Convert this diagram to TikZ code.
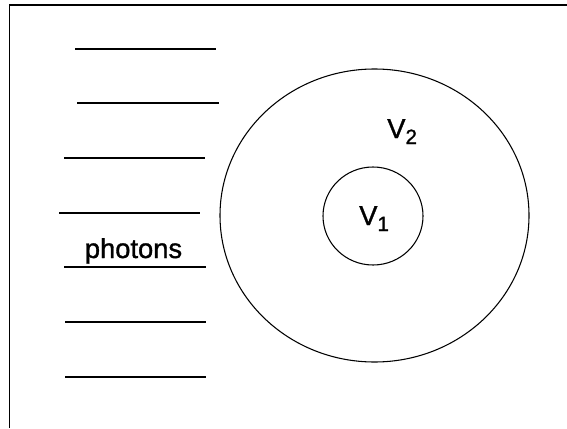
\documentclass[tikz,border=0pt]{standalone}
\usepackage{fontspec}
\setmainfont{Liberation Sans}
\newfontfamily\lblfont[FakeBold=1.2]{Liberation Sans}
\usepackage{tikz}

\newcommand{\lowsub}[1]{\raisebox{-4.5pt}{\fontsize{15.5}{18}\selectfont #1}}

\tikzset{
  photonline/.style={line width=0.9pt},
  txt/.style={inner sep=0.75pt,font=\lblfont\fontsize{20.5}{24}\selectfont}
}

\begin{document}
\begin{tikzpicture}[x=0.75pt,y=0.75pt,yscale=-1,xscale=1]
\useasboundingbox (0,0) rectangle (567,428);

%Frame lines
\draw [line width=1.2pt] (9.5,428) -- (9.5,5) -- (567,5) ;

%Straight Lines (photons)
\draw [photonline] (75,49) -- (216,49) ;
\draw [photonline] (77,103) -- (219,103) ;
\draw [photonline] (64,158) -- (205,158) ;
\draw [photonline] (59,213) -- (200,213) ;
\draw [photonline] (64,267) -- (206,267) ;
\draw [photonline] (65,322) -- (206,322) ;
\draw [photonline] (65,377) -- (206,377) ;

%Shape: Ellipse (outer)
\draw [line width=0.8pt] (374.5,215.5) ellipse (154.5 and 146.5) ;
%Shape: Circle (inner)
\draw [line width=0.8pt] (373,216) ellipse (50 and 49) ;

% Text Node
\node [txt,anchor=base] (photons) at (133.5,258) {photons};
% Text Node
\node [txt,anchor=base west] (vtwo) at (386,138) {V\lowsub{2}};
% Text Node
\node [txt,anchor=base west] (vone) at (358,225) {V\lowsub{1}};

\end{tikzpicture}
\end{document}
